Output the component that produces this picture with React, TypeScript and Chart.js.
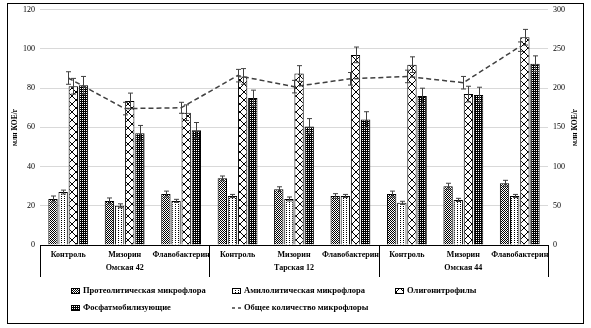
import React, { useEffect, useRef } from 'react';
import { Chart, registerables } from 'chart.js';
Chart.register(...registerables);

const categories = ['Контроль', 'Мизорин', 'Флавобактерин', 'Контроль', 'Мизорин', 'Флавобактерин', 'Контроль', 'Мизорин', 'Флавобактерин'];
const groups = ['Омская 42', 'Тарская 12', 'Омская 44'];

const proteolytic = [23.5, 22.5, 26, 34, 28.5, 25, 26, 30, 31.5];
const amylolytic = [27, 20, 22.5, 25, 23.5, 25, 21.5, 23, 25];
const oligonitrophils = [81, 73.5, 67.5, 86, 87.5, 97, 92, 77, 106];
const phosphate = [81.5, 57, 58.5, 75, 60.5, 64, 76, 76.5, 92.5];
const total = [213, 174, 175, 216, 202, 212, 215, 207, 253];

const proteolyticErr = [1.5, 1.5, 1.5, 1.2, 1.2, 1.2, 1.5, 1.5, 1.5];
const amylolyticErr = [1, 1, 0.8, 0.8, 1, 0.8, 0.8, 0.8, 0.8];
const oligonitrophilsErr = [4, 4, 4, 4, 4, 4, 4, 4, 4];
const phosphateErr = [4.5, 4, 4, 4, 4, 4, 4, 4, 4];
const totalErr = [8, 8, 7, 8, 8, 8, 8, 8, 6];

const legendLabels = [
  'Протеолитическая микрофлора',
  'Амилолитическая микрофлора',
  'Олигонитрофилы',
  'Фосфатмобилизующие',
  'Общее количество микрофлоры',
];
const axisTitle = 'млн КОЕ/г';

const FONT = '"Liberation Serif", "Times New Roman", serif';

function makePattern(kind: string): CanvasPattern | string {
  const c = document.createElement('canvas');
  let w = 2, h = 2;
  if (kind === 'amyl') { w = 3; h = 2; }
  if (kind === 'olig') { w = 8; h = 8; }
  c.width = w; c.height = h;
  const g = c.getContext('2d')!;
  g.fillStyle = '#fff';
  g.fillRect(0, 0, w, h);
  g.fillStyle = '#000';
  if (kind === 'prot') {
    g.fillRect(0, 0, 1, 1);
    g.fillRect(1, 1, 1, 1);
  } else if (kind === 'phos') {
    g.fillRect(1, 0, 1, 1);
    g.fillRect(0, 1, 1, 1);
    g.fillRect(1, 1, 1, 1);
  } else if (kind === 'amyl') {
    g.fillRect(1, 0, 1, 1);
  } else if (kind === 'olig') {
    for (let i = 0; i < 8; i++) {
      g.fillRect(i, i, 1, 1);
      g.fillRect(7 - i, i, 1, 1);
    }
  }
  const p = g.createPattern(c, 'repeat');
  return p || '#888';
}

const errorBarPlugin = {
  id: 'errorBars',
  afterDatasetsDraw(chart: any) {
    const ctx = chart.ctx;
    ctx.save();
    ctx.strokeStyle = '#404040';
    ctx.lineWidth = 1;
    chart.data.datasets.forEach((ds: any, di: number) => {
      if (!ds.errors) return;
      const meta = chart.getDatasetMeta(di);
      const scale = chart.scales[ds.yAxisID || 'y'];
      meta.data.forEach((el: any, i: number) => {
        const v = ds.data[i];
        const e = ds.errors[i];
        const x = Math.round(el.x) + 0.5;
        const top = scale.getPixelForValue(v + e);
        const bot = scale.getPixelForValue(v - e);
        const cw = ds.type === 'line' ? 2.5 : 2.5;
        ctx.beginPath();
        ctx.moveTo(x, top);
        ctx.lineTo(x, bot);
        ctx.moveTo(x - cw, top);
        ctx.lineTo(x + cw, top);
        ctx.moveTo(x - cw, bot);
        ctx.lineTo(x + cw, bot);
        ctx.stroke();
      });
    });
    ctx.restore();
  },
};

const decorPlugin = {
  id: 'decor',
  afterDraw(chart: any, _args: any, opts: any) {
    const ctx = chart.ctx;
    const ca = chart.chartArea;
    const xs = chart.scales.x;
    const pats = opts.patterns;
    ctx.save();
    // outer frame
    ctx.strokeStyle = '#000';
    ctx.lineWidth = 1;
    ctx.strokeRect(7.5, 3.5, 576, 320);

    // axis titles
    ctx.fillStyle = '#000';
    ctx.font = `bold 7.5px ${FONT}`;
    ctx.textAlign = 'center';
    ctx.textBaseline = 'middle';
    const midY = (ca.top + ca.bottom) / 2;
    [15, 575].forEach((tx) => {
      ctx.save();
      ctx.translate(tx, midY);
      ctx.rotate(-Math.PI / 2);
      ctx.fillText(axisTitle, 0, 0);
      ctx.restore();
    });

    // category labels
    const n = categories.length;
    const cw = (ca.right - ca.left) / n;
    ctx.font = `bold 8px ${FONT}`;
    categories.forEach((c, i) => {
      const x = xs.getPixelForValue(i);
      ctx.fillText(c, x, ca.bottom + 10);
    });
    // group labels
    const per = n / groups.length;
    groups.forEach((g, gi) => {
      const x = (xs.getPixelForValue(gi * per) + xs.getPixelForValue(gi * per + per - 1)) / 2;
      ctx.fillText(g, x, ca.bottom + 23);
    });
    // separators
    ctx.beginPath();
    for (let gi = 0; gi <= groups.length; gi++) {
      const x = Math.round(ca.left + gi * per * cw) + 0.5;
      ctx.moveTo(x, ca.bottom);
      ctx.lineTo(x, ca.bottom + 32);
    }
    ctx.stroke();

    // legend
    ctx.font = `bold 8.5px ${FONT}`;
    ctx.textAlign = 'left';
    const items = [
      { x: 71, y: 291, p: pats[0] },
      { x: 232, y: 291, p: pats[1] },
      { x: 395, y: 291, p: pats[2] },
      { x: 71, y: 308, p: pats[3] },
      { x: 232, y: 308, p: null },
    ];
    items.forEach((it, i) => {
      if (it.p) {
        ctx.fillStyle = it.p;
        ctx.fillRect(it.x, it.y - 3, 9, 6);
        ctx.strokeStyle = '#000';
        ctx.strokeRect(it.x + 0.5, it.y - 2.5, 8, 5);
      } else {
        ctx.strokeStyle = '#404040';
        ctx.lineWidth = 1.5;
        ctx.setLineDash([3, 3]);
        ctx.beginPath();
        ctx.moveTo(it.x, it.y);
        ctx.lineTo(it.x + 10, it.y);
        ctx.stroke();
        ctx.setLineDash([]);
        ctx.lineWidth = 1;
      }
      ctx.fillStyle = '#000';
      ctx.fillText(legendLabels[i], it.x + 12, it.y);
    });
    ctx.restore();
  },
};

export default function App() {
  const ref = useRef<HTMLCanvasElement | null>(null);
  useEffect(() => {
    document.body.style.margin = '0';
    const canvas = ref.current!;
    const pats = [makePattern('prot'), makePattern('amyl'), makePattern('olig'), makePattern('phos')];
    const barCommon = {
      type: 'bar' as const,
      borderColor: '#000',
      borderWidth: 1,
      order: 1,
      yAxisID: 'y',
      categoryPercentage: 0.72,
      barPercentage: 0.92,
    };
    const chart = new Chart(canvas, {
      type: 'bar',
      data: {
        labels: categories,
        datasets: [
          { ...barCommon, label: legendLabels[0], data: proteolytic, backgroundColor: pats[0], errors: proteolyticErr } as any,
          { ...barCommon, label: legendLabels[1], data: amylolytic, backgroundColor: pats[1], errors: amylolyticErr } as any,
          { ...barCommon, label: legendLabels[2], data: oligonitrophils, backgroundColor: pats[2], errors: oligonitrophilsErr } as any,
          { ...barCommon, label: legendLabels[3], data: phosphate, backgroundColor: pats[3], errors: phosphateErr } as any,
          {
            type: 'line',
            label: legendLabels[4],
            data: total,
            yAxisID: 'y1',
            order: 0,
            borderColor: '#404040',
            borderWidth: 1.5,
            borderDash: [5, 3],
            pointRadius: 0,
            fill: false,
            tension: 0,
            errors: totalErr,
          } as any,
        ],
      },
      options: {
        responsive: false,
        animation: false,
        layout: { padding: { top: 9, left: 0, right: 0, bottom: 0 } },
        plugins: {
          legend: { display: false },
          tooltip: { enabled: false },
          decor: { patterns: pats },
        } as any,
        scales: {
          x: {
            grid: { display: false, drawTicks: false },
            border: { display: true, color: '#000', width: 1 },
            ticks: { display: false },
            afterFit: (s: any) => { s.height = 83; },
          },
          y: {
            position: 'left',
            min: 0,
            max: 120,
            ticks: { stepSize: 20, padding: 5, color: '#000', font: { family: FONT, size: 8 } },
            grid: { color: '#d9d9d9', drawTicks: false },
            border: { display: false },
            afterFit: (s: any) => { s.width = 40; },
          },
          y1: {
            position: 'right',
            min: 0,
            max: 300,
            ticks: { stepSize: 50, padding: 5, color: '#000', font: { family: FONT, size: 8 } },
            grid: { display: false, drawTicks: false },
            border: { display: false },
            afterFit: (s: any) => { s.width = 43; },
          },
        },
      } as any,
      plugins: [errorBarPlugin, decorPlugin],
    });
    return () => chart.destroy();
  }, []);
  return <canvas ref={ref} width={591} height={328} style={{ display: 'block' }} />;
}
